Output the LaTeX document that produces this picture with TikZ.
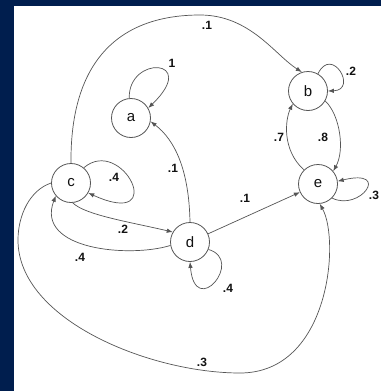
\documentclass[tikz,border=0pt]{standalone}
\usepackage{fontspec}
\setsansfont{Liberation Sans}
\usepackage{tikz}
\usetikzlibrary{arrows.meta, positioning, calc}
\definecolor{markovnavy}{HTML}{001E4E}
\definecolor{markovgrey}{HTML}{555555}
\definecolor{markovink}{HTML}{111111}

\begin{document}
\begin{tikzpicture}[x=1pt, y=-1pt,
    state/.style={circle, draw=markovgrey, line width=0.8pt, fill=white,
      minimum size=39pt, inner sep=0pt, text=markovink,
      font=\sffamily\fontsize{15}{18}\selectfont},
    prob/.style={font=\sffamily\bfseries\fontsize{12}{14}\selectfont, text=markovink, inner sep=0pt},
    trans/.style={draw=markovgrey, line width=0.7pt, -{Latex[length=6pt, width=4.5pt]}}]
      % frame
      \fill[markovnavy] (0,0) rectangle (381,391);
      \fill[white] (14,6) rectangle (381,391);
      \useasboundingbox (0,0) rectangle (381,391);
      % states
      \node[state] (a) at (131,118) {a};
      \node[state] (b) at (308,91) {b};
      \node[state] (c) at (71,183) {c};
      \node[state] (d) at (190,242) {d};
      \node[state] (e) at (318,184) {e};
      % self loops
      \draw[trans] (a.95) .. controls (128,55) and (200,58) .. (a.30);
      \draw[trans] (b.60) .. controls (332,45) and (358,90) .. (b.east);
      \draw[trans] (c.50) .. controls (122,135) and (170,230) .. (c.-30);
      \draw[trans] (d.-22) .. controls (245,260) and (195,320) .. (d.south);
      \draw[trans] (e.-45) .. controls (360,212) and (392,168) .. (e.8);
      % transitions
      \draw[trans] (c.north) .. controls (70,60) and (120,15) .. (200,15)
        .. controls (250,15) and (275,55) .. (b.108);
      \draw[trans] (d.north) .. controls (189,170) and (175,140) .. (a.-10);
      \draw[trans] (d) -- (e);
      \draw[trans] (c.-85) .. controls (85,215) and (130,222) .. (d.150);
      \draw[trans] (d.190) .. controls (130,258) and (35,250) .. (c.220);
      \draw[trans] (c.west) .. controls (30,190) and (18,215) .. (18,240)
        .. controls (18,320) and (150,373) .. (240,373)
        .. controls (330,373) and (340,240) .. (e.-85);
      \draw[trans] (e.135) .. controls (282,150) and (285,120) .. (b.220);
      \draw[trans] (b.-30) .. controls (340,115) and (345,150) .. (e.40);
      % probabilities
      \node[prob] (pcb) at (207,25) {.1};
      \node[prob] (paa) at (172,63) {1};
      \node[prob] (pbb) at (351,71) {.2};
      \node[prob] (peb) at (279,137) {.7};
      \node[prob] (pbe) at (323,137) {.8};
      \node[prob] (pcc) at (114,177) {.4};
      \node[prob] (pda) at (173,168) {.1};
      \node[prob] (pde) at (245,198) {.1};
      \node[prob] (pee) at (374,195) {.3};
      \node[prob] (pcd) at (123,229) {.2};
      \node[prob] (pdc) at (80,257) {.4};
      \node[prob] (pdd) at (228,288) {.4};
      \node[prob] (pce) at (202,362) {.3};
    \end{tikzpicture}
\end{document}
